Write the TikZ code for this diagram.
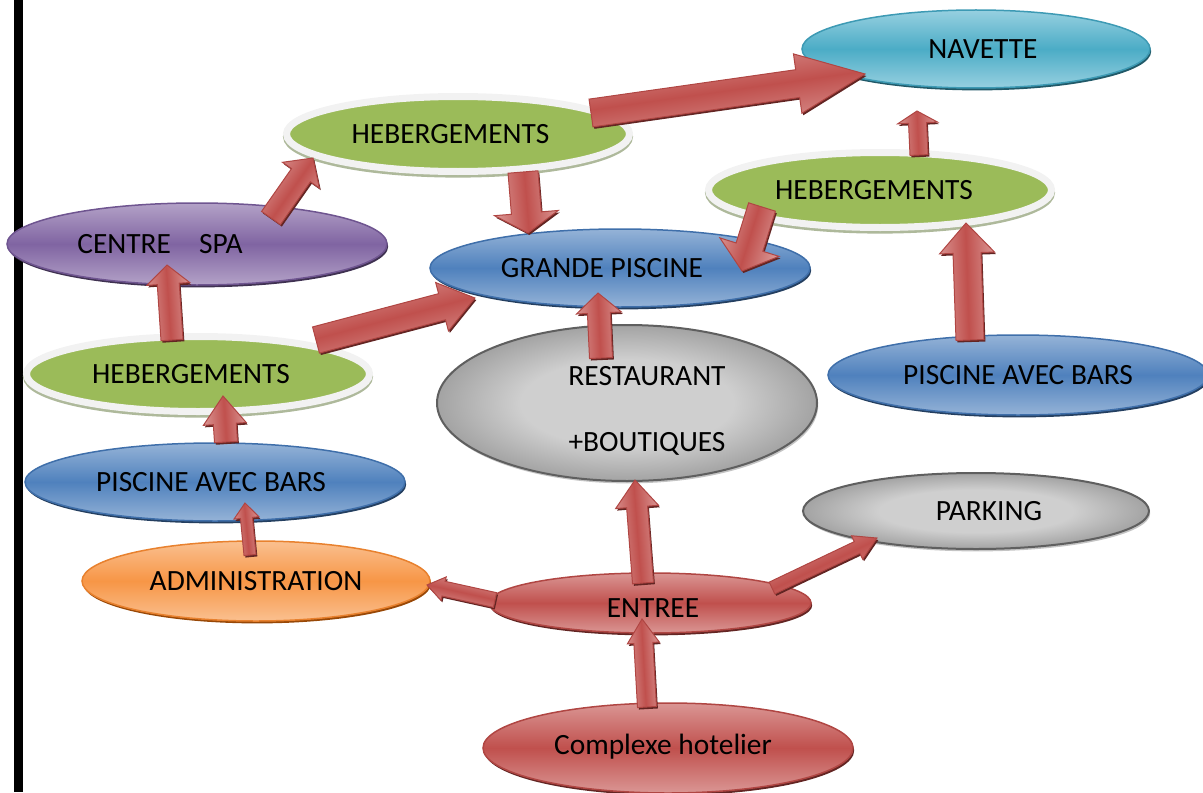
\documentclass[tikz,border=0pt]{standalone}
\usepackage{fontspec}
\setmainfont{Carlito}
\usetikzlibrary{shapes.geometric,shadows,calc}

\definecolor{tealmid}{HTML}{4BACC6}
\definecolor{teallight}{HTML}{97D0E0}
\definecolor{tealedge}{HTML}{3D9AB4}
\definecolor{tealshadow}{HTML}{215968}
\definecolor{bluemid}{HTML}{4F81BD}
\definecolor{bluelight}{HTML}{95B3D7}
\definecolor{blueedge}{HTML}{3F6FAA}
\definecolor{blueshadow}{HTML}{243F60}
\definecolor{purplemid}{HTML}{8064A2}
\definecolor{purplelight}{HTML}{B3A2C7}
\definecolor{purpleedge}{HTML}{6F5590}
\definecolor{purpleshadow}{HTML}{3F3151}
\definecolor{orangemid}{HTML}{F79646}
\definecolor{orangelight}{HTML}{FAC090}
\definecolor{orangeedge}{HTML}{E8812E}
\definecolor{orangeshadow}{HTML}{984807}
\definecolor{redmid}{HTML}{C0504D}
\definecolor{redlight}{HTML}{DA9694}
\definecolor{rededge}{HTML}{B04643}
\definecolor{redshadow}{HTML}{632523}
\definecolor{hebgreen}{HTML}{9BBB59}
\definecolor{hebhalo}{HTML}{F2F2F2}
\definecolor{hebshade}{HTML}{AEB99B}
\definecolor{graylight}{HTML}{CFCFCF}
\definecolor{graydark}{HTML}{8F8F8F}
\definecolor{grayedge}{HTML}{5F5F5F}
\definecolor{grayshadow}{HTML}{C4C4C4}

\pgfdeclareradialshading{grayglow}{\pgfpoint{0bp}{0bp}}{color(0bp)=(graylight);
  color(14bp)=(graylight); color(30bp)=(graydark); color(70bp)=(graydark)}

\tikzset{
  ell/.style={ellipse, inner sep=0pt, line width=0.75pt, text=black,
              font=\fontsize{14.7pt}{17pt}\selectfont},
  radii/.style 2 args={minimum width=#1pt, minimum height=#2pt},
  flat shadow/.style={drop shadow={shadow xshift=0.6pt, shadow yshift=-1.2pt,
                      fill=#1, opacity=1}},
  bubble/.style={ell, draw=#1edge, top color=#1light, bottom color=#1light,
                 middle color=#1mid, flat shadow=#1shadow},
  heb/.style={ell, fill=hebgreen, draw=hebhalo, line width=3.5pt,
              preaction={draw=hebshade, line width=3.5pt,
                         transform canvas={yshift=-1.3pt}}},
  greybubble/.style={ell, draw=grayedge, line width=1pt, shading=grayglow,
                     flat shadow=grayshadow},
  arrowbody/.style={draw=rededge, line width=0.5pt, top color=redlight,
                    bottom color=redlight, middle color=redmid},
}

% block arrow: tail, tip, shaft width, head width, head length (picture units)
\newcommand\baoutline[3]{(0,-#1/2) -- ({\balen-#3},-#1/2) -- ({\balen-#3},-#2/2)
  -- (\balen,0) -- ({\balen-#3},#2/2) -- ({\balen-#3},#1/2) -- (0,#1/2) -- cycle}
\newcommand\blockarrow[5]{%
  \path (#1) coordinate (ba-tail) (#2) coordinate (ba-tip);
  \path let \p1=(ba-tail), \p2=(ba-tip) in \pgfextra{%
    \pgfmathsetmacro\baang{atan2(\y2-\y1,\x2-\x1)}%
    \pgfmathsetmacro\balen{2*veclen(\x2-\x1,\y2-\y1)}%
    \xdef\baang{\baang}\xdef\balen{\balen}};
  \fill[redshadow, shift={(ba-tail)}, xshift=0.7pt, yshift=-1pt, rotate=\baang]
    \baoutline{#3}{#4}{#5};
  \shade[arrowbody, shading angle=\baang, shift={(ba-tail)}, rotate=\baang]
    \baoutline{#3}{#4}{#5};
}

\begin{document}
\begin{tikzpicture}[x=0.5pt, y=-0.5pt]
  \useasboundingbox (0,0) rectangle (1203,792);
  % margin rule
  \fill (14,0) rectangle (23,792);

  % places
  \node[bubble=teal, radii={174}{39}] (navette) at (976,49) {\hspace*{7pt}NAVETTE};
  \node[heb, radii={171.5}{37.5}] (hebT) at (458,134) {HEBERGEMENTS\hspace*{7.5pt}};
  \node[bubble=purple, radii={190}{41}] (spa) at (197,244) {CENTRE\hspace{14pt}SPA\hspace*{37pt}};
  \node[heb, radii={171.5}{37.5}] (hebR) at (880,190) {HEBERGEMENTS\hspace*{6pt}};
  \node[bubble=blue, radii={190}{39}] (grande) at (620,268) {GRANDE PISCINE\hspace*{18pt}};
  \node[heb, radii={171.5}{37.5}] (hebL) at (198,374) {HEBERGEMENTS\hspace*{7pt}};
  \node[greybubble, radii={190}{78}, align=center] (resto) at (627,403)
    {\rule{0pt}{17.5pt}\hspace*{20pt}RESTAURANT\\[16pt]\hspace*{20pt}+BOUTIQUES};
  \node[bubble=blue, radii={190}{40}] (barsR) at (1018,375) {PISCINE AVEC BARS};
  \node[bubble=blue, radii={190}{39}] (barsL) at (215,482) {PISCINE AVEC BARS\hspace*{4pt}};
  \node[greybubble, radii={173}{38}] (parking) at (976,511) {\hspace*{13pt}PARKING};
  \node[bubble=orange, radii={174}{40}] (admin) at (256,581) {ADMINISTRATION};
  \node[bubble=red, radii={161}{30}, text height=14.4pt, text depth=0pt] (entree)
    at (650,603) {\hspace*{3pt}ENTREE};
  \node[bubble=red, radii={185}{45}, text height=6.6pt, text depth=0pt] (complexe)
    at (668,748) {Complexe hotelier\hspace*{5pt}};

  % links
  \blockarrow{[shift={(74,-26)}]spa.center}{[shift={(-145,24)}]hebT.center}{23}{45}{21}
  \blockarrow{[shift={(133,-21)}]hebT.center}{[shift={(-111,25)}]navette.center}{28}{60}{68}
  \blockarrow{[shift={(65,38)}]hebT.center}{[shift={(-92,-35)}]grande.center}{30}{64}{20}
  \blockarrow{[shift={(-118,17)}]hebR.center}{[shift={(122,3)}]grande.center}{28}{62}{25}
  \blockarrow{[shift={(39,-35)}]hebR.center}{[shift={(-59,62)}]navette.center}{18}{40}{12}
  \blockarrow{[shift={(-48,-35)}]barsR.center}{[shift={(86,33)}]hebR.center}{28}{55}{30}
  \blockarrow{[shift={(-26,-45)}]resto.center}{[shift={(-22,25)}]grande.center}{23}{45}{20}
  \blockarrow{[shift={(118,-34)}]hebL.center}{[shift={(-145,30)}]grande.center}{27}{50}{34}
  \blockarrow{[shift={(-26,-34)}]hebL.center}{[shift={(-30,21)}]spa.center}{22}{43}{19}
  \blockarrow{[shift={(11,-40)}]barsL.center}{[shift={(25,22)}]hebL.center}{23}{43}{28}
  \blockarrow{[shift={(-6,-26)}]admin.center}{[shift={(30,21)}]barsL.center}{12}{25}{15}
  \blockarrow{[shift={(-155,-3)}]entree.center}{[shift={(171,4)}]admin.center}{15}{24}{17}
  \blockarrow{[shift={(-7,-20)}]entree.center}{[shift={(8,77)}]resto.center}{21}{43}{27}
  \blockarrow{[shift={(122,-15)}]entree.center}{[shift={(-99,27)}]parking.center}{13}{26}{22}
  \blockarrow{[shift={(-21,-41)}]complexe.center}{[shift={(-8,16)}]entree.center}{19}{32}{24}
\end{tikzpicture}
\end{document}
